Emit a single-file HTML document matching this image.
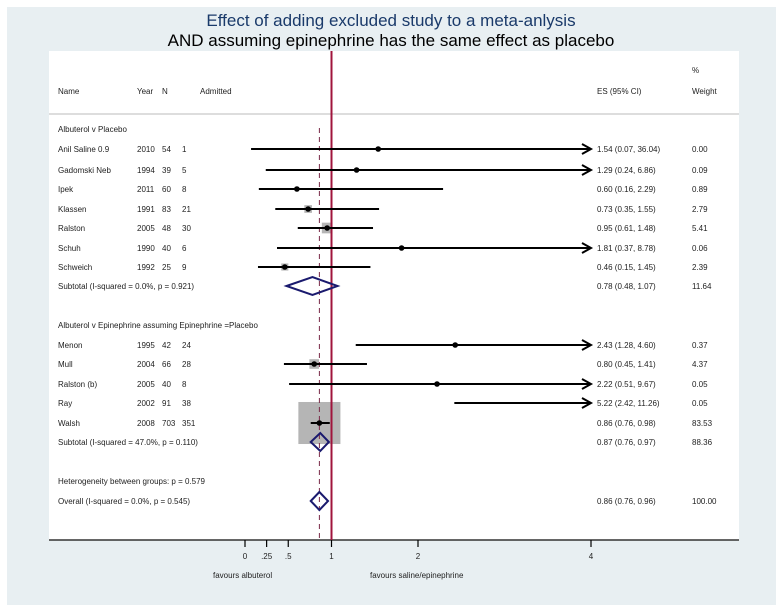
<!DOCTYPE html>
<html><head><meta charset="utf-8"><style>
body{margin:0;background:#fff;}
svg{display:block;font-family:"Liberation Sans",sans-serif;}
</style></head><body>
<svg id="chart" width="782" height="612">
<rect x="7" y="7" width="769" height="598" fill="#e8eff2"/>
<rect x="49" y="51" width="690" height="489" fill="#fff"/>
<text x="391" y="26" text-anchor="middle" font-size="17" fill="#1a3a6a">Effect of adding excluded study to a meta-anlysis</text>
<text x="391" y="46" text-anchor="middle" font-size="17" fill="#000">AND assuming epinephrine has the same effect as placebo</text>
<g font-size="8" fill="#222">
<text x="58" y="94">Name</text>
<text x="137" y="94">Year</text>
<text x="162" y="94">N</text>
<text x="200" y="94">Admitted</text>
<text x="597" y="94">ES (95% CI)</text>
<text x="692" y="73">%</text>
<text x="692" y="94">Weight</text>
</g>
<line x1="49" y1="114" x2="739" y2="114" stroke="#bbb" stroke-width="1"/>
<line x1="49" y1="540" x2="739" y2="540" stroke="#333" stroke-width="1.5"/>
<g id="rows"></g>
<g id="axis"></g>
<text x="213" y="578" font-size="8" fill="#222">favours albuterol</text>
<text x="370" y="578" font-size="8" fill="#222">favours saline/epinephrine</text>
</svg>
<script>
const names=["Anil  Saline 0.9","Gadomski Neb","Ipek","Klassen","Ralston","Schuh","Schweich","Menon","Mull","Ralston  (b)","Ray","Walsh"];
const years=["2010","1994","2011","1991","2005","1990","1992","1995","2004","2005","2002","2008"];
const ns=["54","39","60","83","48","40","25","42","66","40","91","703"];
const admitted=["1","5","8","21","30","6","9","24","28","8","38","351"];
const es=[1.54,1.29,0.60,0.73,0.95,1.81,0.46,2.43,0.80,2.22,5.22,0.86];
const lo=[0.07,0.24,0.16,0.35,0.61,0.37,0.15,1.28,0.45,0.51,2.42,0.76];
const hi=[36.04,6.86,2.29,1.55,1.48,8.78,1.45,4.60,1.41,9.67,11.26,0.98];
const weights=[0.00,0.09,0.89,2.79,5.41,0.06,2.39,0.37,4.37,0.05,0.05,83.53];
const rowYs=[149,170,189,209,228,248,267,345,364,384,403,423];
const summaryLabels=["Subtotal  (I-squared = 0.0%, p = 0.921)","Subtotal  (I-squared = 47.0%, p = 0.110)","Overall  (I-squared = 0.0%, p = 0.545)"];
const summaryES=[0.78,0.87,0.86];
const summaryLo=[0.48,0.76,0.76];
const summaryHi=[1.07,0.97,0.96];
const summaryW=["11.64","88.36","100.00"];
const summaryYs=[286,442,501];
const tickVals=[0,0.25,0.5,1,2,4];
const tickLabels=["0",".25",".5","1","2","4"];
const overallES=0.86;

const NS="http://www.w3.org/2000/svg";
const X=v=>245+v*86.5;
const XMAX=4;
const rows=document.getElementById('rows');
const axis=document.getElementById('axis');
function mk(tag,attrs,parent,txt){const e=document.createElementNS(NS,tag);for(const k in attrs)e.setAttribute(k,attrs[k]);if(txt!==undefined)e.textContent=txt;parent.appendChild(e);return e;}
const f=v=>v.toFixed(2);

let g1=mk('text',{x:58,y:132,'font-size':8,fill:'#222'},rows,'Albuterol v Placebo');


let g2=mk('text',{x:58,y:328,'font-size':8,fill:'#222'},rows,'Albuterol v Epinephrine assuming Epinephrine =Placebo');


let het=mk('text',{x:58,y:484,'font-size':8,fill:'#222'},rows,'Heterogeneity between groups: p = 0.579');



for(let i=0;i<es.length;i++){
  const s=4.6*Math.sqrt(weights[i]);
  if(s>0.5 && es[i]<=XMAX){
    const b=mk('rect',{x:X(es[i])-s/2,y:rowYs[i]-s/2,width:s,height:s,fill:'#b5b5b5'},rows);
    
    
  }
}
const rl=mk('line',{x1:X(1),y1:51,x2:X(1),y2:540,stroke:'#a0143c','stroke-width':2},rows);


const dl=mk('line',{x1:X(overallES),y1:128,x2:X(overallES),y2:540,stroke:'#7a2a48','stroke-width':1,'stroke-dasharray':'5,4'},rows);



for(let i=0;i<es.length;i++){
  const y=rowYs[i];
  const cols=[[58,names[i],'study-name'],[137,years[i],'study-year'],[162,ns[i],'study-n'],[182,admitted[i],'study-admitted'],[597,f(es[i])+' ('+f(lo[i])+', '+f(hi[i])+')','study-es'],[692,f(weights[i]),'study-weight']];
  cols.forEach(c=>{const t=mk('text',{x:c[0],y:y+3,'font-size':8,fill:'#222'},rows,c[1]);
    
    });
  const x2=X(Math.min(hi[i],XMAX));
  const ln=mk('line',{x1:X(lo[i]),y1:y,x2:x2,y2:y,stroke:'#000','stroke-width':2},rows);
  
  
  if(hi[i]>XMAX){
    const ar=mk('path',{d:`M${x2-9},${y-5} L${x2},${y} L${x2-9},${y+5}`,fill:'none',stroke:'#000','stroke-width':2},rows);
    
    
  }
  if(es[i]<=XMAX){
    const d=mk('circle',{cx:X(es[i]),cy:y,r:2.8,fill:'#000'},rows);
    
    
  }
}
for(let j=0;j<summaryES.length;j++){
  const y=summaryYs[j];
  const l=mk('text',{x:58,y:y+3,'font-size':8,fill:'#222'},rows,summaryLabels[j]);
  
  
  const e=mk('text',{x:597,y:y+3,'font-size':8,fill:'#222'},rows,f(summaryES[j])+' ('+f(summaryLo[j])+', '+f(summaryHi[j])+')');
  
  
  const w=mk('text',{x:692,y:y+3,'font-size':8,fill:'#222'},rows,summaryW[j]);
  
  
  const dm=mk('polygon',{points:`${X(summaryLo[j])},${y} ${X(summaryES[j])},${y-9} ${X(summaryHi[j])},${y} ${X(summaryES[j])},${y+9}`,fill:'none',stroke:'#1a1a6e','stroke-width':2},rows);
  
  
}
tickVals.forEach((v,i)=>{
  const t=mk('line',{x1:X(v),y1:540,x2:X(v),y2:547,stroke:'#000','stroke-width':1.2},axis);
  
  
  const l=mk('text',{x:X(v),y:559,'text-anchor':'middle','font-size':8,fill:'#222'},axis,tickLabels[i]);
  
  
});
</script>
</body></html>
